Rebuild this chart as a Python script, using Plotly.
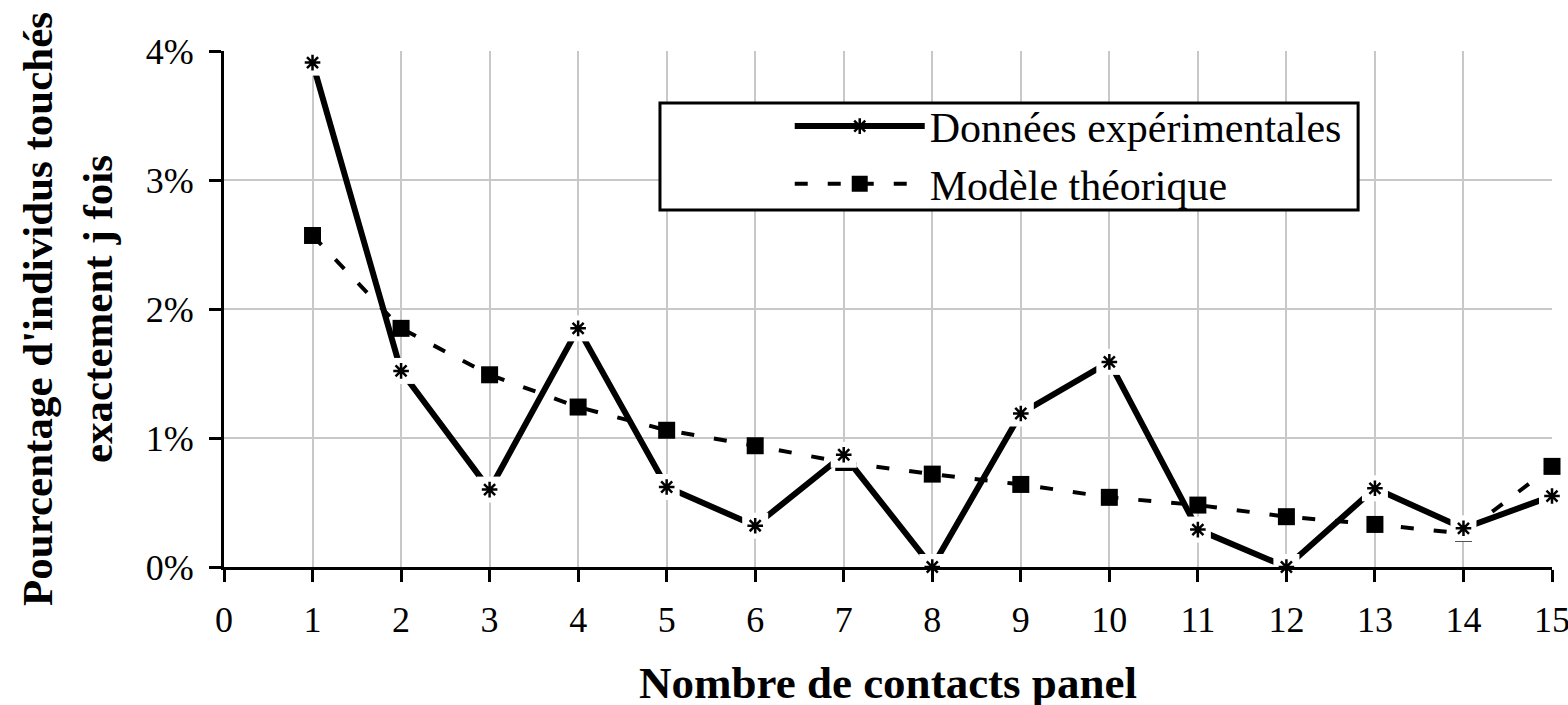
import plotly.graph_objects as go

contacts = list(range(1, 16))
experimental = [3.91, 1.52, 0.60, 1.85, 0.62, 0.32, 0.87, 0.0, 1.19, 1.59, 0.29, 0.0, 0.61, 0.30, 0.55]
model = [2.57, 1.85, 1.49, 1.24, 1.06, 0.94, 0.81, 0.72, 0.64, 0.54, 0.48, 0.39, 0.33, 0.26, 0.78]

name_exp = "Données expérimentales"
name_model = "Modèle théorique"
x_title = "Nombre de contacts panel"
y_title_1 = "Pourcentage d'individus touchés"
y_title_2 = "exactement j fois"

FONT = "Liberation Serif"

fig = go.Figure()

fig.add_trace(go.Scatter(
    x=contacts, y=model, name=name_model, mode="lines+markers",
    line=dict(color="black", width=4, dash="13px,20px"),
    marker=dict(symbol="square", size=17, color="black"),
    cliponaxis=False, legendrank=2,
))
fig.add_trace(go.Scatter(
    x=contacts, y=experimental, name=name_exp, mode="lines+markers",
    line=dict(color="black", width=6),
    marker=dict(symbol="asterisk-open", size=13, color="black",
                line=dict(color="black", width=2.5)),
    cliponaxis=False, legendrank=1,
))
# white halo behind the asterisk markers
fig.add_trace(go.Scatter(
    x=contacts, y=experimental, mode="markers", showlegend=False, hoverinfo="skip",
    marker=dict(symbol="square", size=26, color="white"),
    cliponaxis=False,
))
fig.add_trace(go.Scatter(
    x=contacts, y=experimental, mode="markers", showlegend=False, hoverinfo="skip",
    marker=dict(symbol="asterisk-open", size=13, color="black",
                line=dict(color="black", width=2.5)),
    cliponaxis=False,
))

fig.update_layout(
    width=1568, height=705,
    margin=dict(l=224, r=16, t=51, b=138, autoexpand=False),
    paper_bgcolor="white", plot_bgcolor="white",
    font=dict(family=FONT, color="black", size=36),
    showlegend=True,
    legend=dict(
        x=0.426, y=0.92, xanchor="left", yanchor="top",
        bgcolor="rgba(0,0,0,0)", borderwidth=0,
        font=dict(family=FONT, size=42, color="black"),
        itemwidth=130, tracegroupgap=0,
    ),
    xaxis=dict(
        range=[0, 15], tickmode="linear", tick0=0, dtick=1,
        showgrid=True, gridcolor="#c8c8c8", gridwidth=2,
        showline=True, linecolor="black", linewidth=3,
        ticks="outside", ticklen=12, tickwidth=3, tickcolor="black",
        tickfont=dict(family=FONT, size=36), ticklabelstandoff=7,
        ticklabeloverflow="allow", automargin=False,
        zeroline=False,
    ),
    yaxis=dict(
        range=[0, 4], tickmode="linear", tick0=0, dtick=1, ticksuffix="%",
        showgrid=True, gridcolor="#c8c8c8", gridwidth=2,
        showline=True, linecolor="black", linewidth=3,
        ticks="outside", ticklen=12, tickwidth=3, tickcolor="black",
        tickfont=dict(family=FONT, size=36), ticklabelstandoff=8,
        ticklabeloverflow="allow", automargin=False,
        zeroline=False,
    ),
    shapes=[dict(
        type="rect", xref="paper", yref="paper",
        x0=0.3283, x1=0.854, y0=0.692, y1=0.899,
        line=dict(color="black", width=3), fillcolor="white", layer="above",
    )],
    annotations=[
        dict(text="<b>%s</b>" % x_title, xref="paper", yref="paper",
             x=0.5, y=-0.225, xanchor="center", yanchor="middle",
             showarrow=False, font=dict(family=FONT, size=45)),
        dict(text="<b>%s</b>" % y_title_1, xref="paper", yref="paper",
             x=-0.1408, y=0.5, xanchor="center", yanchor="middle", textangle=-90,
             showarrow=False, font=dict(family=FONT, size=43)),
        dict(text="<b>%s</b>" % y_title_2, xref="paper", yref="paper",
             x=-0.0956, y=0.5, xanchor="center", yanchor="middle", textangle=-90,
             showarrow=False, font=dict(family=FONT, size=43)),
    ],
)

fig.write_html("out.html", config={"displayModeBar": False},
               post_script="document.body.style.margin='0';document.body.style.overflow='hidden';")
